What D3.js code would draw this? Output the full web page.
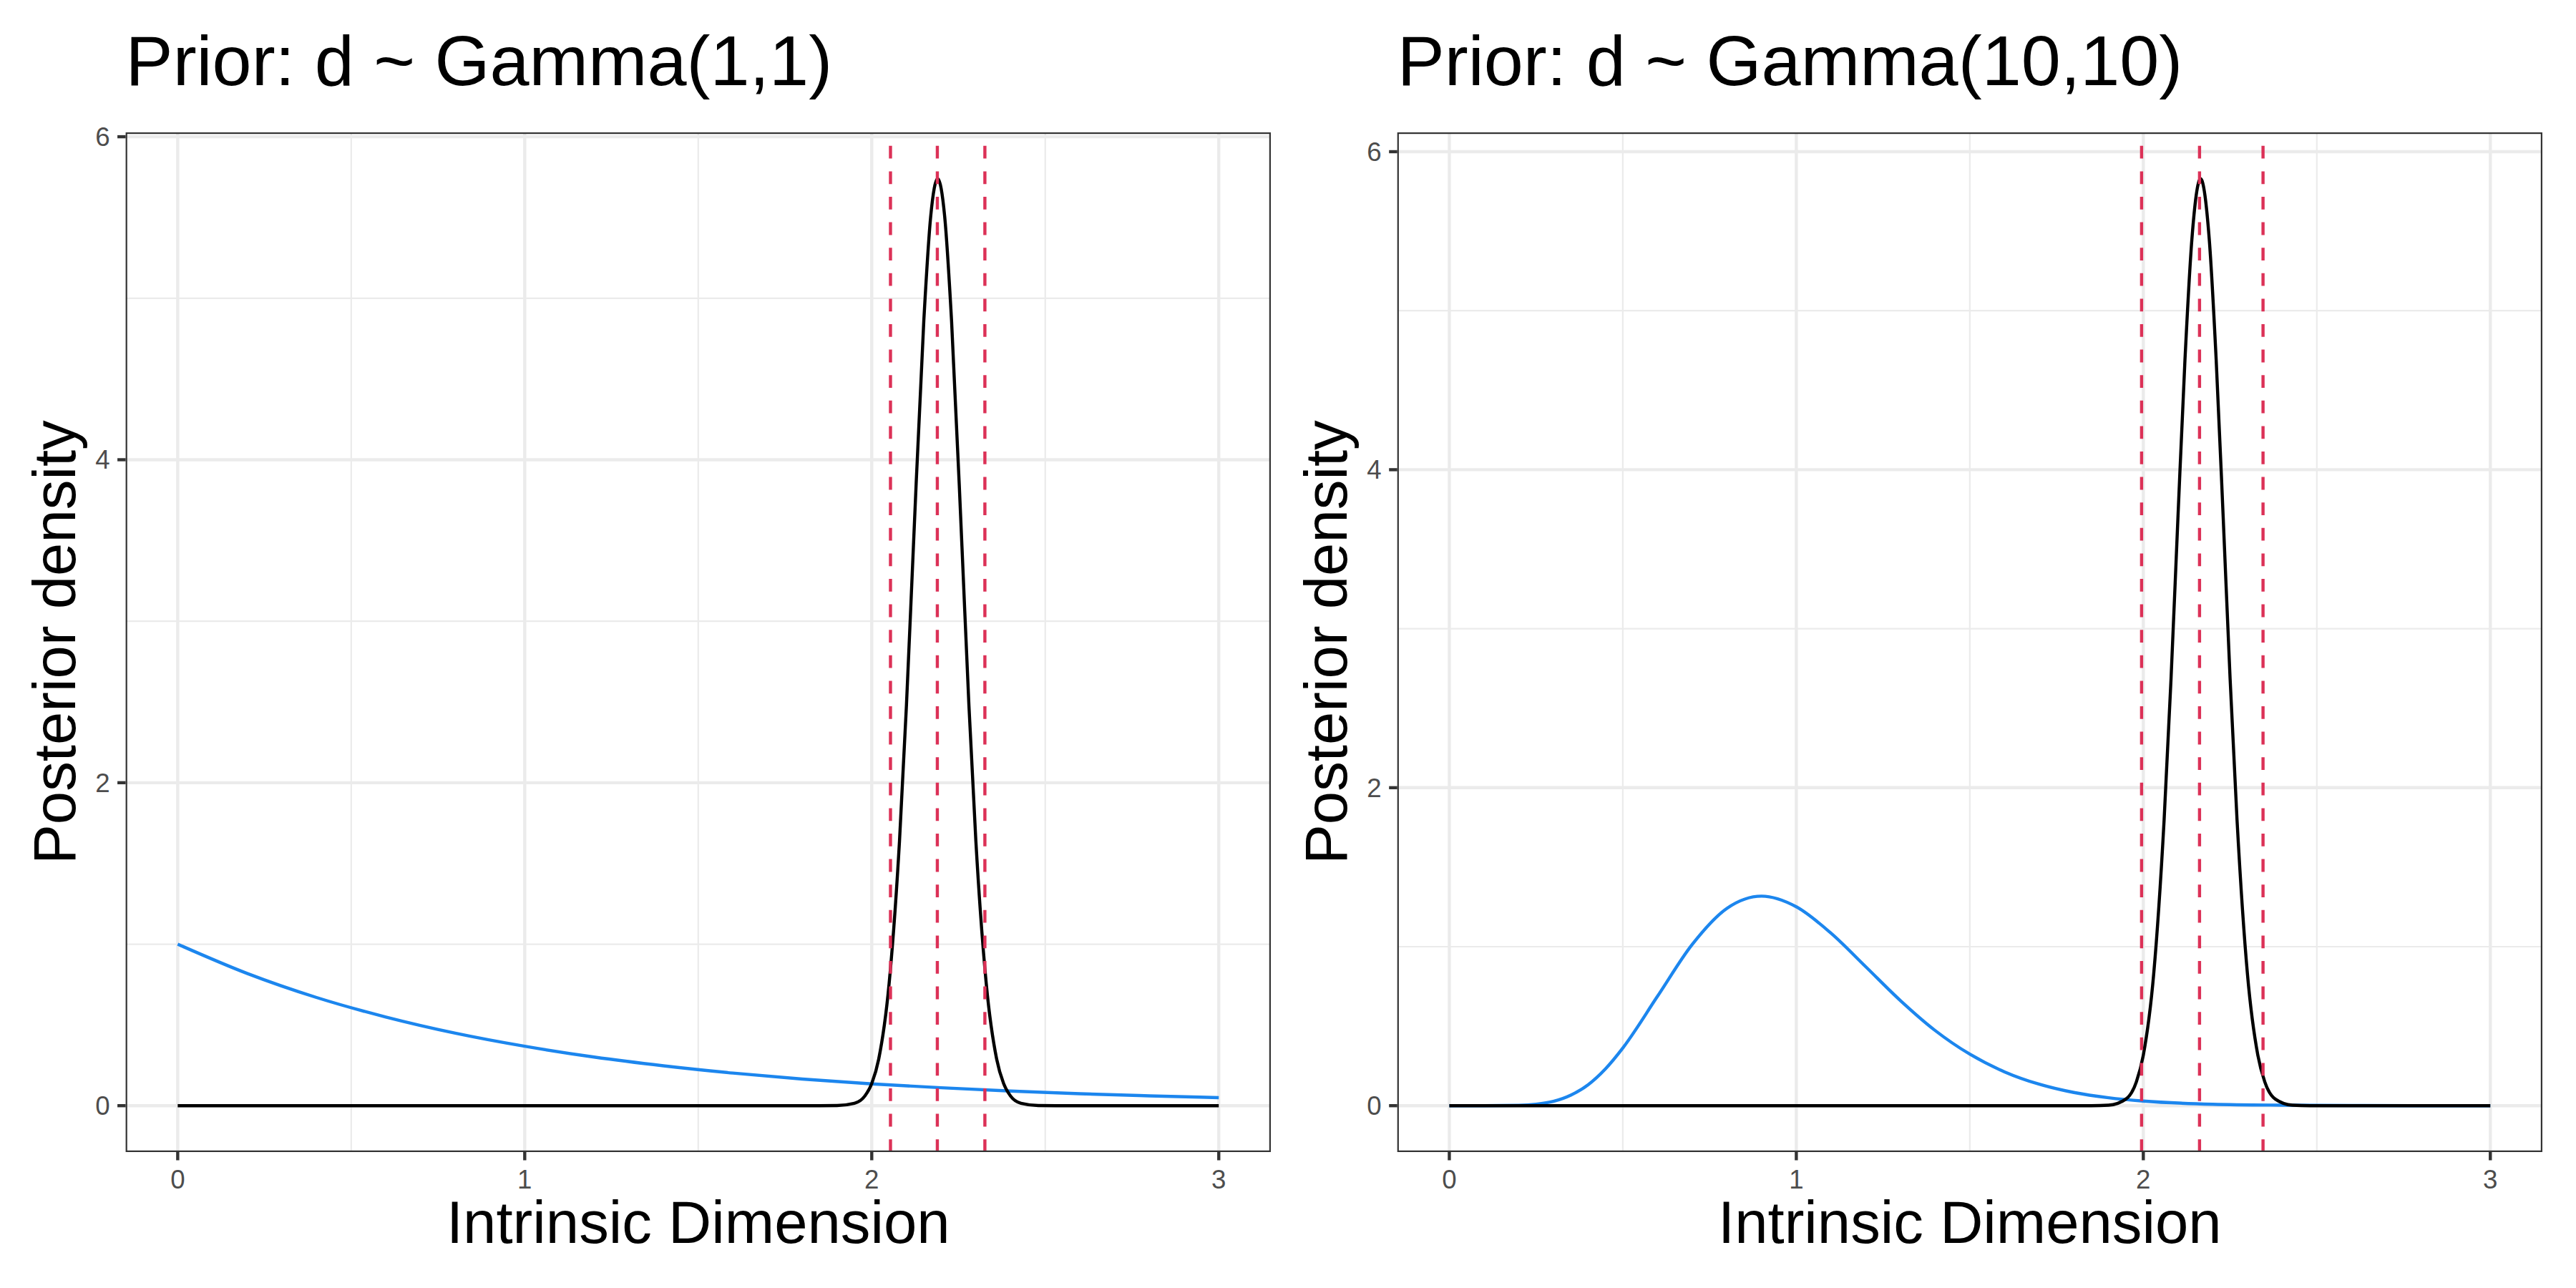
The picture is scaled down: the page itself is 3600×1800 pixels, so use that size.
<!DOCTYPE html>
<html>
<head>
<meta charset="utf-8">
<script src="https://cdn.jsdelivr.net/npm/d3@7"></script>
<style>
  html, body { margin: 0; padding: 0; background: #ffffff; }
  svg { display: block; font-family: "Liberation Sans", Arial, Helvetica, sans-serif; }
</style>
</head>
<body>
<div id="chart"></div>
<script>
// Data
const titles = ["Prior: d ~ Gamma(1,1)", "Prior: d ~ Gamma(10,10)"];
const xTicks = [0, 1, 2, 3];
const yTicks = [0, 2, 4, 6];
const xMinor = [0.5, 1.5, 2.5];
const yMinor = [1, 3, 5];

// left panel: prior Gamma(1,1) (blue)
const priorX1 = [0, 0.2, 0.4, 0.6, 0.8, 1.0, 1.2, 1.4, 1.6, 1.8, 2.0, 2.2, 2.4, 2.6, 2.8, 3.0];
const priorY1 = [1.000, 0.819, 0.670, 0.549, 0.449, 0.368, 0.301, 0.247, 0.202, 0.165, 0.135, 0.111, 0.091, 0.074, 0.061, 0.050];

// left panel: posterior (black)
const postX1 = [0, 1.5, 1.85, 1.90, 1.95, 1.98, 2.00, 2.02, 2.05, 2.08, 2.10, 2.12, 2.15, 2.17, 2.19,
                2.21, 2.23, 2.26, 2.28, 2.30, 2.33, 2.36, 2.38, 2.40, 2.43, 2.48, 2.53, 3.0];
const postY1 = [0, 0, 0, 0.001, 0.015, 0.060, 0.137, 0.288, 0.755, 1.64, 2.48, 3.46, 4.86, 5.51, 5.74,
                5.51, 4.86, 3.46, 2.48, 1.64, 0.755, 0.288, 0.137, 0.060, 0.015, 0.001, 0, 0];

// left panel: dashed interval lines
const lines1 = [2.054, 2.189, 2.326];

// right panel: prior Gamma(10,10) (blue)
const priorX2 = [0, 0.1, 0.2, 0.25, 0.3, 0.35, 0.4, 0.45, 0.5, 0.6, 0.7, 0.8, 0.9, 1.0, 1.1, 1.2, 1.3,
                 1.4, 1.5, 1.6, 1.7, 1.8, 1.9, 2.0, 2.2, 2.4, 2.6, 2.8, 3.0];
const priorY2 = [0, 0.000, 0.002, 0.009, 0.027, 0.066, 0.132, 0.232, 0.363, 0.688, 1.014, 1.241, 1.318, 1.251, 1.085, 0.874, 0.661,
                 0.473, 0.324, 0.213, 0.135, 0.083, 0.050, 0.029, 0.009, 0.003, 0.001, 0, 0];

// right panel: posterior (black)
const postX2 = [0, 1.5, 1.85, 1.90, 1.95, 1.98, 2.00, 2.03, 2.06, 2.08, 2.10, 2.12, 2.14, 2.165,
                2.19, 2.21, 2.23, 2.25, 2.27, 2.30, 2.33, 2.35, 2.38, 2.43, 2.48, 3.0];
const postY2 = [0, 0, 0, 0.003, 0.042, 0.150, 0.318, 0.83, 1.80, 2.69, 3.71, 4.69, 5.45, 5.83,
                5.45, 4.69, 3.71, 2.69, 1.80, 0.83, 0.318, 0.150, 0.042, 0.003, 0, 0];

// right panel: dashed interval lines
const lines2 = [1.995, 2.162, 2.345];

// panel layout (pixels)
const W = 3600, H = 1800;
const panels = [
    { title: titles[0], left: 175.6, right: 1776, prior: [priorX1, priorY1], post: [postX1, postY1], vlines: lines1 },
    { title: titles[1], left: 1952.7, right: 3553, prior: [priorX2, priorY2], post: [postX2, postY2], vlines: lines2 }
];
const panelTop = 185, panelBottom = 1610;

const svg = d3.select("#chart").append("svg")
    .attr("width", W)
    .attr("height", H);

svg.append("rect").attr("width", W).attr("height", H).attr("fill", "#ffffff");

panels.forEach((p, i) => {
    const priorPts = p.prior[0].map((x, k) => [x, p.prior[1][k]]);
    const postPts = p.post[0].map((x, k) => [x, p.post[1][k]]);

    // ggplot style 5% expansion
    const allY = p.prior[1].concat(p.post[1]);
    const yMin = d3.min(allY), yMax = d3.max(allY);
    const ySpan = yMax - yMin;
    const x = d3.scaleLinear().domain([0 - 0.15, 3 + 0.15]).range([p.left, p.right]);
    const y = d3.scaleLinear().domain([yMin - 0.05 * ySpan, yMax + 0.05 * ySpan]).range([panelBottom, panelTop]);

    const clipId = "clip" + i;
    svg.append("clipPath").attr("id", clipId)
        .append("rect")
        .attr("x", p.left).attr("y", panelTop)
        .attr("width", p.right - p.left).attr("height", panelBottom - panelTop);

    const g = svg.append("g").attr("clip-path", `url(#${clipId})`);

    // minor grid
    g.selectAll(".vminor").data(xMinor).enter().append("line")
        .attr("x1", d => x(d)).attr("x2", d => x(d))
        .attr("y1", panelTop).attr("y2", panelBottom)
        .attr("stroke", "#ebebeb").attr("stroke-width", 2.2);
    g.selectAll(".hminor").data(yMinor).enter().append("line")
        .attr("y1", d => y(d)).attr("y2", d => y(d))
        .attr("x1", p.left).attr("x2", p.right)
        .attr("stroke", "#ebebeb").attr("stroke-width", 2.2);

    // major grid
    g.selectAll(".vmajor").data(xTicks).enter().append("line")
        .attr("x1", d => x(d)).attr("x2", d => x(d))
        .attr("y1", panelTop).attr("y2", panelBottom)
        .attr("stroke", "#ebebeb").attr("stroke-width", 4.4);
    g.selectAll(".hmajor").data(yTicks).enter().append("line")
        .attr("y1", d => y(d)).attr("y2", d => y(d))
        .attr("x1", p.left).attr("x2", p.right)
        .attr("stroke", "#ebebeb").attr("stroke-width", 4.4);

    const line = d3.line()
        .x(d => x(d[0]))
        .y(d => y(d[1]))
        .curve(d3.curveMonotoneX);

    // prior
    g.append("path")
        .datum(priorPts)
        .attr("d", line)
        .attr("fill", "none")
        .attr("stroke", "#1c86ee")
        .attr("stroke-width", 4.4)
        .attr("stroke-linejoin", "round");

    // posterior
    g.append("path")
        .datum(postPts)
        .attr("d", line)
        .attr("fill", "none")
        .attr("stroke", "#000000")
        .attr("stroke-width", 4.4)
        .attr("stroke-linejoin", "round");

    // dashed lines
    g.selectAll(".vline").data(p.vlines).enter().append("line")
        .attr("x1", d => x(d)).attr("x2", d => x(d))
        .attr("y1", panelBottom).attr("y2", panelTop)
        .attr("stroke", "#dc3157")
        .attr("stroke-width", 4.4)
        .attr("stroke-dasharray", "17.8,17.8");

    // panel border (half clipped like ggplot)
    g.append("rect")
        .attr("x", p.left).attr("y", panelTop)
        .attr("width", p.right - p.left).attr("height", panelBottom - panelTop)
        .attr("fill", "none")
        .attr("stroke", "#333333")
        .attr("stroke-width", 4.4);

    // ticks
    svg.selectAll(".xtick" + i).data(xTicks).enter().append("line")
        .attr("x1", d => x(d)).attr("x2", d => x(d))
        .attr("y1", panelBottom).attr("y2", panelBottom + 11.5)
        .attr("stroke", "#333333").attr("stroke-width", 4.4);
    svg.selectAll(".ytick" + i).data(yTicks).enter().append("line")
        .attr("y1", d => y(d)).attr("y2", d => y(d))
        .attr("x1", p.left - 11.5).attr("x2", p.left)
        .attr("stroke", "#333333").attr("stroke-width", 4.4);

    // tick labels
    svg.selectAll(".xlab" + i).data(xTicks).enter().append("text")
        .attr("x", d => x(d))
        .attr("y", 1661)
        .attr("text-anchor", "middle")
        .style("font-size", "36.7px")
        .style("fill", "#4d4d4d")
        .text(d => d);
    svg.selectAll(".ylab" + i).data(yTicks).enter().append("text")
        .attr("x", p.left - 22)
        .attr("y", d => y(d) + 13)
        .attr("text-anchor", "end")
        .style("font-size", "36.7px")
        .style("fill", "#4d4d4d")
        .text(d => d);

    // axis titles
    svg.append("text")
        .attr("x", (p.left + p.right) / 2)
        .attr("y", 1737)
        .attr("text-anchor", "middle")
        .style("font-size", "83.3px")
        .style("fill", "#000000")
        .text("Intrinsic Dimension");

    const yTitleX = p.left - 70.6;
    svg.append("text")
        .attr("transform", `translate(${yTitleX}, ${(panelTop + panelBottom) / 2}) rotate(-90)`)
        .attr("text-anchor", "middle")
        .style("font-size", "83.3px")
        .style("fill", "#000000")
        .text("Posterior density");

    // plot title
    svg.append("text")
        .attr("x", p.left)
        .attr("y", 119)
        .attr("text-anchor", "start")
        .style("font-size", "99px")
        .style("fill", "#000000")
        .text(p.title);
});
</script>
</body>
</html>
